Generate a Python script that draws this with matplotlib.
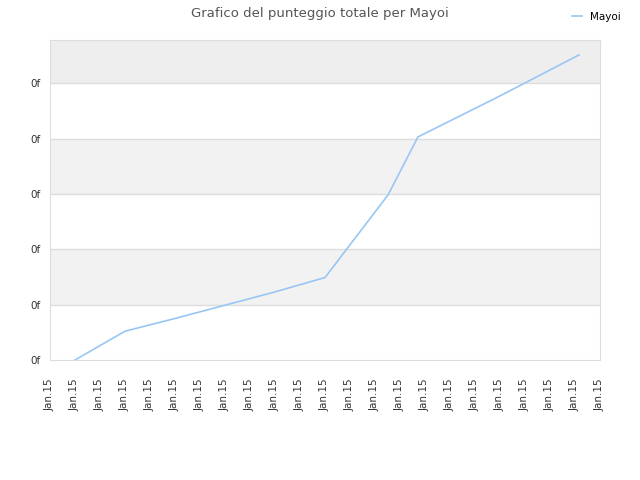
import matplotlib.pyplot as plt
from matplotlib.ticker import FixedLocator, FuncFormatter

# x in tick units (tick every 1 unit, all labelled "Jan.15"), y in gridline units
x_vals = [1, 3, 5, 7, 9, 11, 13.52, 14.72, 17.87, 21.16]
y_vals = [0, 0.52, 0.75, 0.99, 1.23, 1.49, 2.98, 4.03, 4.74, 5.51]
series_name = "Mayoi"
x_tick_labels = ["Jan.15"] * 23
y_ticks = [0, 1, 2, 3, 4, 5]
y_tick_label = "0f"

fig = plt.figure(figsize=(6.4, 4.8), dpi=100)
ax = fig.add_axes([50 / 640, 120 / 480, 550 / 640, 320 / 480])

ymax = 5.78
# alternating bands
band_edges = y_ticks + [ymax]
for i in range(len(band_edges) - 1):
    if i % 2 == 1:
        col = "#eeeeee" if i == len(band_edges) - 2 else "#f2f2f2"
        ax.axhspan(band_edges[i], band_edges[i + 1], color=col, zorder=0, lw=0)
for yv in y_ticks[1:]:
    ax.axhline(yv, color="#dddddd", lw=1, zorder=1)

ax.plot(x_vals, y_vals, color="#99c6f5", lw=1.2, label=series_name, zorder=3)

ax.set_xlim(0, len(x_tick_labels) - 1)
ax.set_ylim(0, ymax)
ax.xaxis.set_major_locator(FixedLocator(range(len(x_tick_labels))))
ax.set_xticklabels(x_tick_labels, rotation=90, fontsize=7.5, color="#333333")
ax.yaxis.set_major_locator(FixedLocator(y_ticks))
ax.yaxis.set_major_formatter(FuncFormatter(lambda v, p: y_tick_label))
ax.tick_params(axis="y", labelsize=7.5, colors="#333333", length=0, pad=7)
ax.tick_params(axis="x", length=0, pad=13, colors="#333333")
for s in ax.spines.values():
    s.set_color("#dddddd")

fig.suptitle("Grafico del punteggio totale per Mayoi", x=0.5, y=0.985,
             fontsize=9.5, color="#555555")
fig.legend(loc="upper right", bbox_to_anchor=(0.985, 0.995), frameon=False,
           fontsize=7.5, handlelength=1.0, handletextpad=0.8)

plt.savefig("out.png", dpi=100)
